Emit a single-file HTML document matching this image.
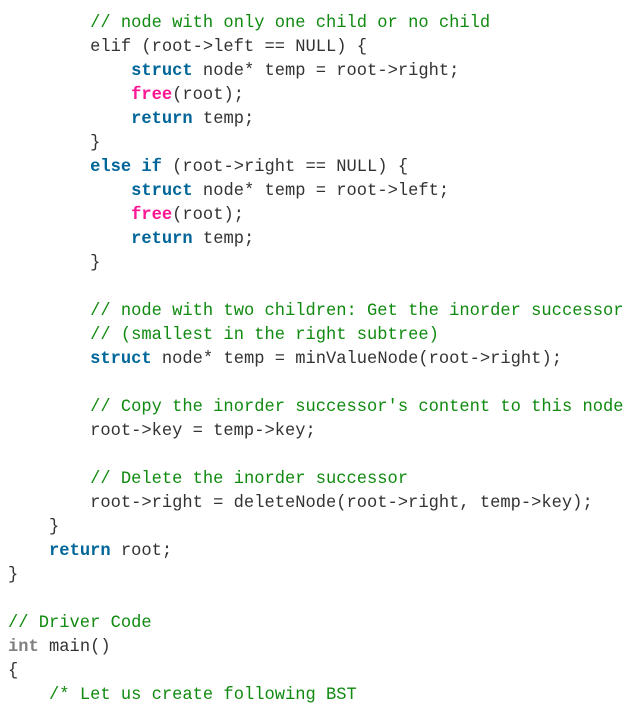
<!DOCTYPE html>
<html><head><meta charset="utf-8">
<style>
html,body{margin:0;padding:0;background:#fff;width:625px;height:707px;overflow:hidden}
pre{position:absolute;left:8px;top:12px;margin:0;font-family:"Liberation Mono",monospace;font-size:17.1px;line-height:24px;color:#333;white-space:pre}
.c{color:#108a10}
.k{color:#006699;font-weight:bold}
.f{color:#ff1493;font-weight:bold}
.t{color:#808080;font-weight:bold}
</style></head><body>
<pre>        <span class="c">// node with only one child or no child</span>
        elif (root-&gt;left == NULL) {
            <span class="k">struct</span> node* temp = root-&gt;right;
            <span class="f">free</span>(root);
            <span class="k">return</span> temp;
        }
        <span class="k">else if</span> (root-&gt;right == NULL) {
            <span class="k">struct</span> node* temp = root-&gt;left;
            <span class="f">free</span>(root);
            <span class="k">return</span> temp;
        }

        <span class="c">// node with two children: Get the inorder successor</span>
        <span class="c">// (smallest in the right subtree)</span>
        <span class="k">struct</span> node* temp = minValueNode(root-&gt;right);

        <span class="c">// Copy the inorder successor's content to this node</span>
        root-&gt;key = temp-&gt;key;

        <span class="c">// Delete the inorder successor</span>
        root-&gt;right = deleteNode(root-&gt;right, temp-&gt;key);
    }
    <span class="k">return</span> root;
}

<span class="c">// Driver Code</span>
<span class="t">int</span> main()
{
    <span class="c">/* Let us create following BST</span></pre>
</body></html>
